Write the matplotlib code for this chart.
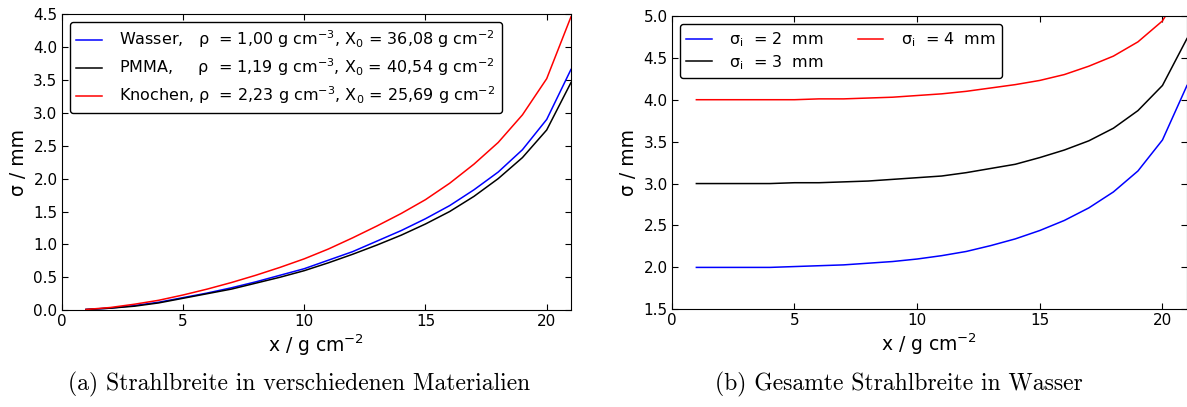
import matplotlib
matplotlib.use('Agg')
import matplotlib.pyplot as plt

# depth in g/cm^2
x = list(range(1, 22))

# (a) beam width in different materials
wasser = [0.01, 0.03, 0.07, 0.12, 0.19, 0.26, 0.34, 0.43, 0.53, 0.63, 0.76,
          0.89, 1.05, 1.21, 1.39, 1.59, 1.83, 2.10, 2.44, 2.90, 3.66]
pmma = [0.01, 0.03, 0.06, 0.11, 0.18, 0.25, 0.32, 0.41, 0.50, 0.60, 0.72,
        0.85, 0.99, 1.14, 1.31, 1.50, 1.73, 2.00, 2.32, 2.74, 3.46]
knochen = [0.01, 0.04, 0.09, 0.15, 0.23, 0.32, 0.42, 0.53, 0.65, 0.78, 0.93,
           1.10, 1.28, 1.47, 1.68, 1.93, 2.22, 2.55, 2.97, 3.52, 4.46]

# (b) total beam width in water for different initial widths
sigma_2 = [2.00, 2.00, 2.00, 2.00, 2.01, 2.02, 2.03, 2.05, 2.07, 2.10, 2.14,
           2.19, 2.26, 2.34, 2.44, 2.56, 2.71, 2.90, 3.15, 3.52, 4.17]
sigma_3 = [3.00, 3.00, 3.00, 3.00, 3.01, 3.01, 3.02, 3.03, 3.05, 3.07, 3.09,
           3.13, 3.18, 3.23, 3.31, 3.40, 3.51, 3.66, 3.87, 4.17, 4.73]
sigma_4 = [4.00, 4.00, 4.00, 4.00, 4.00, 4.01, 4.01, 4.02, 4.03, 4.05, 4.07,
           4.10, 4.14, 4.18, 4.23, 4.30, 4.40, 4.52, 4.69, 4.94, 5.42]

labels_a = ['Wasser,   ρ  = 1,00 g cm$^{-3}$, X$_0$ = 36,08 g cm$^{-2}$',
            'PMMA,     ρ  = 1,19 g cm$^{-3}$, X$_0$ = 40,54 g cm$^{-2}$',
            'Knochen, ρ  = 2,23 g cm$^{-3}$, X$_0$ = 25,69 g cm$^{-2}$']
labels_b = ['σ$_\\mathrm{i}$  = 2  mm', 'σ$_\\mathrm{i}$  = 3  mm',
            'σ$_\\mathrm{i}$  = 4  mm']

plt.rcParams['mathtext.default'] = 'regular'
plt.rcParams['font.size'] = 11
plt.rcParams['xtick.direction'] = 'in'
plt.rcParams['ytick.direction'] = 'in'
plt.rcParams['xtick.top'] = True
plt.rcParams['ytick.right'] = True
plt.rcParams['xtick.major.size'] = 4
plt.rcParams['ytick.major.size'] = 4
plt.rcParams['xtick.major.pad'] = 3
plt.rcParams['ytick.major.pad'] = 3
plt.rcParams['xtick.labelsize'] = 11
plt.rcParams['ytick.labelsize'] = 11

fig = plt.figure(figsize=(11.87, 4.07), dpi=100)
ax1 = fig.add_axes([0.052, 0.238, 0.429, 0.727])
ax2 = fig.add_axes([0.566, 0.240, 0.434, 0.721])

ax1.plot(x, wasser, color='blue', lw=1.1, label=labels_a[0])
ax1.plot(x, pmma, color='black', lw=1.1, label=labels_a[1])
ax1.plot(x, knochen, color='red', lw=1.1, label=labels_a[2])
ax1.set_xlim(0, 21)
ax1.set_ylim(0, 4.5)
ax1.set_xticks([0, 5, 10, 15, 20])
ax1.set_yticks([0.5 * i for i in range(10)])
ax1.set_xlabel('x / g cm$^{-2}$', fontsize=13.5, labelpad=2)
ax1.set_ylabel('σ / mm', fontsize=13.5, labelpad=4)
ax1.legend(loc='upper left', fontsize=11.5, handlelength=1.6,
           handletextpad=1.1, borderaxespad=0.5, framealpha=1,
           edgecolor='black', labelspacing=0.4)

ax2.plot(x, sigma_2, color='blue', lw=1.1, label=labels_b[0])
ax2.plot(x, sigma_3, color='black', lw=1.1, label=labels_b[1])
ax2.plot(x, sigma_4, color='red', lw=1.1, label=labels_b[2])
ax2.set_xlim(0, 21)
ax2.set_ylim(1.5, 5.0)
ax2.set_xticks([0, 5, 10, 15, 20])
ax2.set_yticks([1.5 + 0.5 * i for i in range(8)])
ax2.set_xlabel('x / g cm$^{-2}$', fontsize=13.5, labelpad=2)
ax2.set_ylabel('σ / mm', fontsize=13.5, labelpad=4)
ax2.legend(loc='upper left', ncol=2, fontsize=11.5, handlelength=1.6,
           handletextpad=1.1, borderaxespad=0.5, framealpha=1,
           edgecolor='black', columnspacing=2.1, labelspacing=0.25)

fig.text(0.252, 0.055, '(a) Strahlbreite in verschiedenen Materialien',
         family='cmr10', fontsize=17, ha='center', va='center')
fig.text(0.757, 0.055, '(b) Gesamte Strahlbreite in Wasser',
         family='cmr10', fontsize=17, ha='center', va='center')

fig.savefig('out.png', dpi=100)
